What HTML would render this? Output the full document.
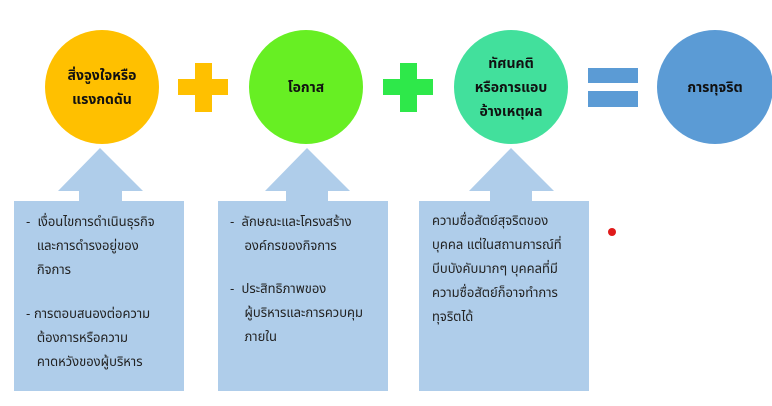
<!DOCTYPE html>
<html><head><meta charset="utf-8"><style>
body{margin:0;width:772px;height:406px;background:#fff;position:relative;overflow:hidden;font-family:"Liberation Sans","Noto Sans Thai","Tahoma",sans-serif;}
.c{position:absolute;border-radius:50%;display:flex;align-items:center;justify-content:center;text-align:center;font-weight:bold;font-size:14px;line-height:24px;color:#111;}
.b{position:absolute;background:#afcdea;}
.t{position:absolute;font-size:13px;line-height:24px;color:#222;}
</style></head><body>
<div class="c" style="left:45px;top:30px;width:114px;height:114px;background:#ffc000">สิ่งจูงใจหรือ<br>แรงกดดัน</div>
<div class="c" style="left:249px;top:30px;width:114px;height:114px;background:#67ef23">โอกาส</div>
<div class="c" style="left:454px;top:30px;width:114px;height:114px;background:#42e09c">ทัศนคติ<br>หรือการแอบ<br>อ้างเหตุผล</div>
<div class="c" style="left:657px;top:30px;width:116px;height:114px;background:#5b9bd5">การทุจริต</div>
<div class="b" style="left:195px;top:63px;width:17px;height:49px;background:#ffc000"></div>
<div class="b" style="left:178px;top:79px;width:50px;height:16px;background:#ffc000"></div>
<div class="b" style="left:400px;top:63px;width:17px;height:49px;background:#2ee84a"></div>
<div class="b" style="left:383px;top:79px;width:50px;height:16px;background:#2ee84a"></div>
<div class="b" style="left:588px;top:68px;width:50px;height:15px;background:#5b9bd5"></div>
<div class="b" style="left:588px;top:91px;width:50px;height:16px;background:#5b9bd5"></div>
<svg style="position:absolute;left:0;top:0" width="772" height="406">
<g fill="#afcdea">
<polygon points="100,148 143,191 122,191 122,202 79,202 79,191 58,191"/>
<polygon points="307,148 350,191 328,191 328,202 286,202 286,191 265,191"/>
<polygon points="511,148 554,191 532,191 532,202 490,202 490,191 469,191"/>
<rect x="14" y="201" width="170" height="190"/>
<rect x="218" y="201" width="170" height="190"/>
<rect x="419" y="201" width="170" height="190"/>
</g>
<circle cx="612" cy="232" r="4" fill="#e01b1b"/>
</svg>
<div class="t" style="left:26px;top:210px">-&nbsp; เงื่อนไขการดำเนินธุรกิจ<br>&nbsp;&nbsp;&nbsp;และการดำรงอยู่ของ<br>&nbsp;&nbsp;&nbsp;กิจการ</div>
<div class="t" style="left:26px;top:302px">- การตอบสนองต่อความ<br>&nbsp;&nbsp;&nbsp;ต้องการหรือความ<br>&nbsp;&nbsp;&nbsp;คาดหวังของผู้บริหาร</div>
<div class="t" style="left:230px;top:210px">-&nbsp; ลักษณะและโครงสร้าง<br>&nbsp;&nbsp;&nbsp;&nbsp;องค์กรของกิจการ</div>
<div class="t" style="left:230px;top:277px">-&nbsp; ประสิทธิภาพของ<br>&nbsp;&nbsp;&nbsp;&nbsp;ผู้บริหารและการควบคุม<br>&nbsp;&nbsp;&nbsp;&nbsp;ภายใน</div>
<div class="t" style="left:432px;top:209px">ความซื่อสัตย์สุจริตของ<br>บุคคล แต่ในสถานการณ์ที่<br>บีบบังคับมากๆ บุคคลที่มี<br>ความซื่อสัตย์ก็อาจทำการ<br>ทุจริตได้</div>
</body></html>
